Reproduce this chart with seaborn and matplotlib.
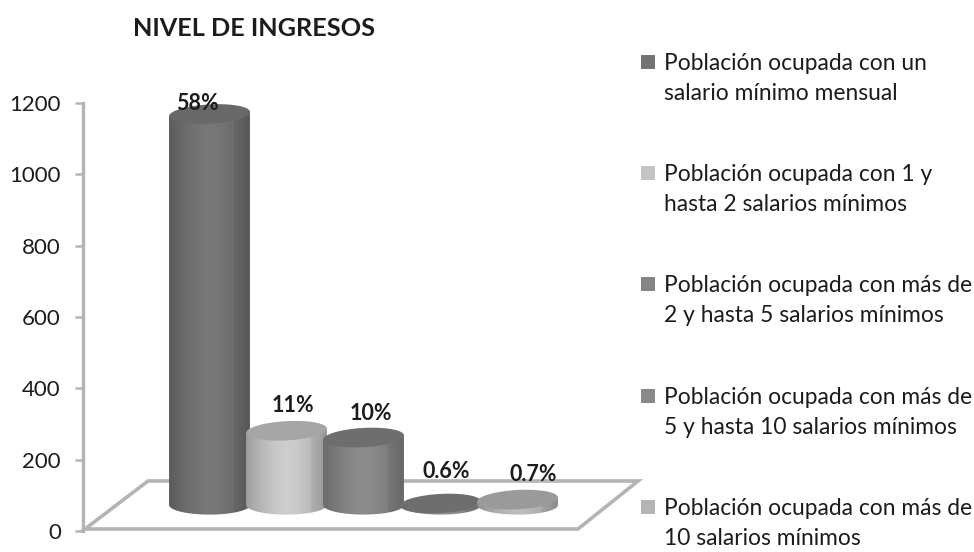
import numpy as np
import pandas as pd
import matplotlib
matplotlib.use("Agg")
import matplotlib.pyplot as plt
import seaborn as sns
from matplotlib.colors import to_rgb
from matplotlib.patches import PathPatch, Polygon, Rectangle
from matplotlib.path import Path

categorias = [
    "Población ocupada con un\nsalario mínimo mensual",
    "Población ocupada con 1 y\nhasta 2 salarios mínimos",
    "Población ocupada con más de\n2 y hasta 5 salarios mínimos",
    "Población ocupada con más de\n5 y hasta 10 salarios mínimos",
    "Población ocupada con más de\n10 salarios mínimos",
]
valores = [1096, 208, 189, 4, 15]
etiquetas = ["58%", "11%", "10%", "0.6%", "0.7%"]
ticks_y = [0, 200, 400, 600, 800, 1000, 1200]

colores = ["#727272", "#c4c4c4", "#858585", "#8a8a8a", "#b4b4b4"]
colores_tapa = ["#686868", "#a6a6a6", "#6e6e6e", "#6e6e6e", "#9a9a9a"]

W, H = 974, 552
sns.set_theme(style="white")
plt.rcParams["font.family"] = ["Lato", "DejaVu Sans"]

fig = plt.figure(figsize=(W / 100, H / 100), dpi=100)
# ejes colocados en pixeles: eje y de 103 (1200) a 531 (0)
ax = fig.add_axes([83 / W, 1 - 531 / H, (638 - 83) / W, (531 - 103) / H])

df = pd.DataFrame({"cat": categorias, "val": valores})
piso = 73  # el fondo 3D queda por encima del cero
sns.barplot(data=df, x="cat", y="val", hue="cat", palette=colores, width=1.05,
            bottom=piso, legend=False, ax=ax, saturation=1)

xlim = ((83 - 209.5) / 77, (638 - 209.5) / 77)
ylim = (0, 1200)
ry = 27  # semieje vertical de las elipses, en unidades de datos
k = 12  # inclinacion de la tapa

barras = sorted(ax.patches, key=lambda p: p.get_x())
barras = [b for b in barras if b.get_width() > 0][:len(valores)]

# piso del grafico
piso_px = np.array([(85, 529), (578, 529), (638, 481), (148, 481)], dtype=float)
piso_ax = np.column_stack([(piso_px[:, 0] - 83) / (638 - 83), (531 - piso_px[:, 1]) / (531 - 103)])
ax.add_patch(Polygon(piso_ax, closed=True, fill=False, edgecolor="#b4b4b4", lw=2.6,
                     transform=ax.transAxes, clip_on=False, zorder=0.5))

# cilindros: degradado recortado sobre cada barra
for i, b in enumerate(barras):
    x0, w = b.get_x(), b.get_width()
    y0, alto = b.get_y(), b.get_height()
    cx = x0 + w / 2
    top = y0 + alto
    b.set_visible(False)
    base = np.array(to_rgb(colores[i]))
    t = np.linspace(-1, 1, 80)
    luz = 1.05 - 0.24 * np.abs(t - 0.02) ** 1.6 - 0.05 * (t > 0.62)
    grad = np.clip(base[None, None, :] * luz[None, :, None], 0, 1)
    z = 2 + i
    im = ax.imshow(grad, extent=(x0, x0 + w, y0 - ry, top + k), aspect="auto", zorder=z)
    th = np.linspace(np.pi, 2 * np.pi, 60)
    xs = cx + w / 2 * np.cos(th)
    ys = y0 + ry * np.sin(th)
    verts = list(zip(xs, ys)) + [(x0 + w, top + k / 2), (x0, top - k / 2), (xs[0], ys[0])]
    contorno = PathPatch(Path(verts), transform=ax.transData, fc="none", ec="none")
    ax.add_patch(contorno)
    im.set_clip_path(contorno)
    th2 = np.linspace(0, 2 * np.pi, 90)
    tx = cx + w / 2 * np.cos(th2)
    ty = top + ry * np.sin(th2) + k * (tx - cx) / w
    ax.add_patch(Polygon(np.column_stack([tx, ty]), closed=True, fc=colores_tapa[i], ec="none", zorder=z + 0.5))

ax.set_xlim(xlim)
ax.set_ylim(ylim)

# etiquetas de porcentaje
label_dx = [-0.16, 0.08, 0.1, 0.08, 0.2]
label_dy = [30, 70, 67, 91, 71]
for i, b in enumerate(barras):
    ax.text(b.get_x() + b.get_width() / 2 + label_dx[i], b.get_y() + b.get_height() + label_dy[i],
            etiquetas[i], ha="center", va="center", fontsize=15.5, fontweight="bold",
            color="#1c1c1c", zorder=20, clip_on=False)

sns.despine(ax=ax, bottom=True, right=True, top=True)
ax.spines["left"].set_color("#b4b4b4")
ax.spines["left"].set_linewidth(2.4)
ax.set_yticks(ticks_y)
ax.set_xticks([])
ax.set_xlabel("")
ax.set_ylabel("")
ax.tick_params(axis="y", left=True, length=6, width=1.8, color="#b4b4b4", labelsize=16,
               labelcolor="#1c1c1c", pad=10)

fig.text(254.5 / W, 1 - 29 / H, "NIVEL DE INGRESOS", ha="center", va="center",
         fontsize=18.2, fontweight="bold", color="#1c1c1c")

# leyenda: cuadro alineado con la primera linea de cada entrada
for i, (c, lab) in enumerate(zip(colores, categorias)):
    yc = 62 + 111.2 * i
    fig.add_artist(Rectangle((641 / W, 1 - (yc + 7) / H), 14 / W, 14 / H, fc=c, ec="none",
                             transform=fig.transFigure))
    fig.text(664 / W, 1 - (yc - 9) / H, lab, ha="left", va="top", fontsize=16.4,
             linespacing=1.53, color="#1c1c1c")

fig.savefig("out.png", dpi=100)
